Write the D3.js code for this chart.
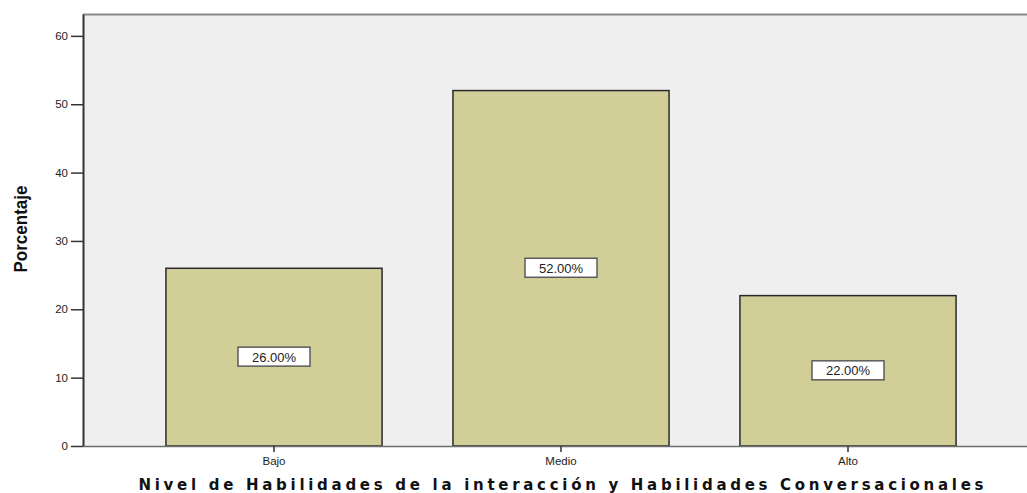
<!DOCTYPE html>
<html>
<head>
<meta charset="utf-8">
<script src="https://cdn.jsdelivr.net/npm/d3@7"></script>
<style>
  body { margin: 0; background: #fff; overflow: hidden; }
  text { font-family: Arial, "Liberation Sans", sans-serif; }
</style>
</head>
<body>
<div id="chart"></div>
<script>
// data
var niveles = ["Bajo", "Medio", "Alto"];
var porcentajes = [26, 52, 22];
var yTicks = [0, 10, 20, 30, 40, 50, 60];
var xTitle = "Nivel de Habilidades de la interacción y Habilidades Conversacionales";
var yTitle = "Porcentaje";

var w = 1027, h = 493;
var marges = {left: 83, top: 14, bottom: 47};
var graf_h = h - marges.top - marges.bottom;
var graf_w = 956; // plot runs past the right edge of the picture

var svg = d3.select("#chart")
  .append("svg")
    .attr("width", w)
    .attr("height", h);

var g = svg.append("g")
    .attr("transform", "translate(" + marges.left + "," + marges.top + ")");

// plot background
g.append("rect")
  .attr("x", 0).attr("y", 0)
  .attr("width", graf_w).attr("height", graf_h)
  .attr("fill", "#efefef");

// top border
g.append("line")
  .attr("x1", 0).attr("x2", graf_w)
  .attr("y1", 0.5).attr("y2", 0.5)
  .attr("stroke", "#8a8a8a").attr("stroke-width", 2);

// scales
var x = d3.scaleBand()
  .domain(niveles)
  .range([0, graf_w])
  .paddingInner(0.247)
  .paddingOuter(0.289);

var y = d3.scaleLinear()
  .domain([0, 63.2])
  .range([graf_h, 0]);

// bars
g.append("g")
  .selectAll("rect")
  .data(niveles)
  .enter().append("rect")
    .attr("x", function(d) { return x(d); })
    .attr("y", function(d, i) { return y(porcentajes[i]); })
    .attr("width", x.bandwidth())
    .attr("height", function(d, i) { return graf_h - y(porcentajes[i]); })
    .attr("fill", "#d2ce98")
    .attr("stroke", "#2a2a2a")
    .attr("stroke-width", 1.5);

// <-- X AXIS -------------
var xAxis = g.append("g")
  .attr("class", "xaxis")
  .attr("transform", "translate(0," + graf_h + ")")
  .call(d3.axisBottom(x).tickSize(6).tickSizeOuter(0).tickPadding(2));
xAxis.select(".domain").attr("stroke", "#6e6e6e").attr("stroke-width", 1.5);
xAxis.selectAll(".tick line").attr("stroke", "#333").attr("stroke-width", 1.5);
xAxis.selectAll(".tick text")
  .attr("font-size", 11.5).attr("fill", "#222").attr("dy", "0.95em");
// -- X AXIS ------------->

// <-- Y AXIS -------------
var yAxis = g.append("g")
  .attr("class", "yaxis")
  .call(d3.axisLeft(y).tickValues(yTicks).tickSize(12).tickSizeOuter(0).tickPadding(3));
yAxis.select(".domain").attr("stroke", "#333").attr("stroke-width", 2);
yAxis.selectAll(".tick line").attr("stroke", "#333").attr("stroke-width", 1.5);
yAxis.selectAll(".tick text").attr("font-size", 11.5).attr("fill", "#222");
// -- Y AXIS ------------->

// value labels in the middle of each bar
var etiquetas = g.append("g")
  .selectAll("g")
  .data(niveles)
  .enter().append("g")
    .attr("transform", function(d, i) {
      return "translate(" + (x(d) + x.bandwidth() / 2) + "," + y(porcentajes[i] / 2) + ")";
    });

etiquetas.append("rect")
  .attr("x", -36).attr("y", -10)
  .attr("width", 72).attr("height", 19)
  .attr("fill", "#fff")
  .attr("stroke", "#5a5a5a")
  .attr("stroke-width", 1.5);

etiquetas.append("text")
  .attr("text-anchor", "middle")
  .attr("dy", "0.35em")
  .attr("font-size", 13)
  .attr("fill", "#222")
  .text(function(d, i) { return porcentajes[i].toFixed(2) + "%"; });

// axis titles
svg.append("text")
  .attr("x", 561)
  .attr("y", 489.5)
  .attr("text-anchor", "middle")
  .style("font-family", "'DejaVu Sans', Verdana, sans-serif")
  .attr("font-size", 15)
  .attr("font-weight", "bold")
  .attr("fill", "#111")
  .attr("textLength", 845)
  .attr("lengthAdjust", "spacing")
  .text(xTitle);

svg.append("text")
  .attr("transform", "translate(27,229) rotate(-90)")
  .attr("text-anchor", "middle")
  .attr("font-size", 18)
  .attr("font-weight", "bold")
  .attr("fill", "#111")
  .attr("textLength", 87)
  .attr("lengthAdjust", "spacingAndGlyphs")
  .text(yTitle);
</script>
</body>
</html>
